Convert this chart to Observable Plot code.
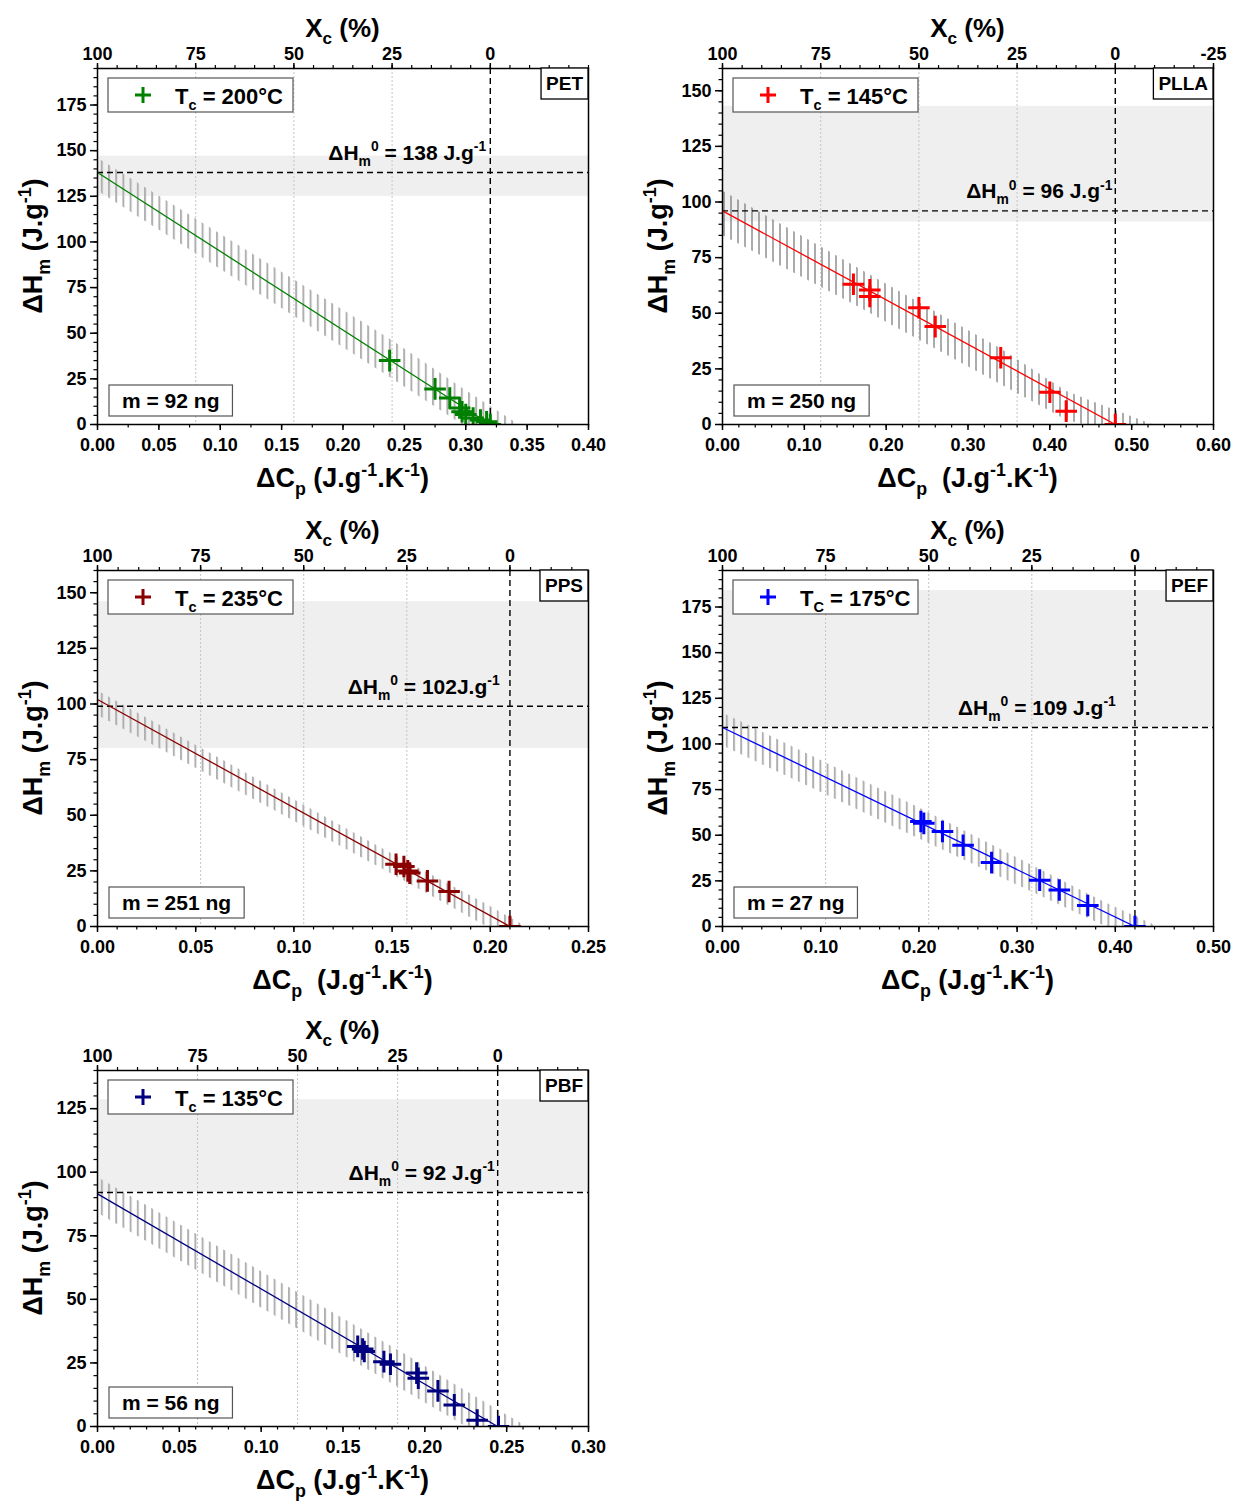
<!DOCTYPE html>
<html><head><meta charset="utf-8">
<script src="https://cdn.jsdelivr.net/npm/d3@7"></script>
<script src="https://cdn.jsdelivr.net/npm/@observablehq/plot@0.6"></script>
<style>
body{margin:0;background:#fff;}
#wrap{position:relative;width:1234px;height:1502px;overflow:hidden;background:#fff;}
.panel{position:absolute;width:617px;height:500px;}
.panel svg{max-width:none !important;}
</style></head><body>
<svg width="0" height="0" style="position:absolute">
<defs>
<pattern id="hatchLight" patternUnits="userSpaceOnUse" width="7.2" height="8"><line x1="1" y1="0" x2="1" y2="8" stroke="#b0b0b0" stroke-width="2"/></pattern>
<pattern id="hatchDark" patternUnits="userSpaceOnUse" width="7" height="8"><line x1="1" y1="0" x2="1" y2="8" stroke="#6c6c6c" stroke-width="1.15"/></pattern>
</defs></svg>
<div id="wrap"></div>
<script>
// ---------- DATA ----------
// PET
const PET_dCp = [0.238, 0.275, 0.287, 0.295, 0.297, 0.300, 0.306, 0.312, 0.317, 0.320];
const PET_dHm = [35, 19.5, 14.5, 9, 7, 5.5, 3.5, 2.5, 1.5, 0];
const PET_fitX = [0, 0.32], PET_fitY = [138, 0];
const PET_bandX = [0, 0.24, 0.297, 0.343], PET_bandHi = [146, 46, 20, 0], PET_bandLo = [128, 25, 0, 0];
const PET_refH = 138, PET_xc = 0.32, PET_grey = [125, 147];
// PLLA
const PLLA_dCp = [0.16, 0.18, 0.18, 0.24, 0.26, 0.34, 0.40, 0.42, 0.48];
const PLLA_dHm = [63, 60.5, 57.5, 52.5, 44, 30, 14.5, 6, 0];
const PLLA_fitX = [0, 0.48], PLLA_fitY = [96, 0];
const PLLA_bandX = [0, 0.16, 0.34, 0.42, 0.44, 0.525], PLLA_bandHi = [105, 71.5, 34, 15, 12, 0], PLLA_bandLo = [85, 54, 18, 2, 0, 0];
const PLLA_refH = 96, PLLA_xc = 0.48, PLLA_grey = [91, 143];
// PPS
const PPS_dCp = [0.152, 0.156, 0.158, 0.159, 0.168, 0.179, 0.21];
const PPS_dHm = [28, 27, 25, 24, 20.5, 15.7, 0];
const PPS_fitX = [0, 0.21], PPS_fitY = [102, 0];
const PPS_bandX = [0, 0.147, 0.198, 0.218], PPS_bandHi = [106, 34, 10, 0], PPS_bandLo = [95, 25, 0, 0];
const PPS_refH = 99, PPS_xc = 0.21, PPS_grey = [80, 146];
// PEF
const PEF_dCp = [0.202, 0.205, 0.224, 0.245, 0.274, 0.323, 0.343, 0.372, 0.42];
const PEF_dHm = [57.5, 56.5, 52, 44.5, 35, 25.4, 20, 11.5, 0];
const PEF_fitX = [0, 0.42], PEF_fitY = [109, 0];
const PEF_bandX = [0, 0.2, 0.39, 0.443], PEF_bandHi = [117, 65, 13, 0], PEF_bandLo = [99, 48, 0, 0];
const PEF_refH = 109, PEF_xc = 0.42, PEF_grey = [109, 184];
// PBF
const PBF_dCp = [0.159, 0.162, 0.163, 0.175, 0.179, 0.195, 0.196, 0.208, 0.218, 0.232, 0.245];
const PBF_dHm = [31.5, 30.5, 29.5, 25.5, 24.5, 21, 19, 14, 8.5, 2.5, 0];
const PBF_fitX = [0, 0.2445], PBF_fitY = [91.5, 0];
const PBF_bandX = [0, 0.189, 0.225, 0.262], PBF_bandHi = [98, 28, 14, 0], PBF_bandLo = [84, 13.5, 0, 0];
const PBF_refH = 92, PBF_xc = 0.2445, PBF_grey = [92, 128.5];

// Tick labels
const xcLabels = [100, 75, 50, 25, 0];
const xcLabelsPLLA = [100, 75, 50, 25, 0, -25];

// ---------- LAYOUT ----------
const W = 617, H = 500, ML = 97, MR = 29, MT = 68, MB = 76;
const FONT = "'Liberation Sans', Arial, Helvetica, sans-serif";

const zip = (xs, ys) => xs.map((x, i) => ({x, y: ys[i]}));
const band = (xs, hi, lo) => xs.map((x, i) => ({x, hi: hi[i], lo: lo[i]}));

const panels = [
  {name: "PET", pos: [0, 0], color: "#008000", hatch: "hatchLight",
   xDomain: [0, 0.40], yDomain: [0, 195], xStep: 0.05, xMinor: 0.025,
   pts: zip(PET_dCp, PET_dHm), fit: zip(PET_fitX, PET_fitY), band: band(PET_bandX, PET_bandHi, PET_bandLo),
   refH: PET_refH, xc: PET_xc, grey: PET_grey, top: xcLabels,
   tc: [["T"], ["c", "sub"], [" = 200°C"]], mass: "m = 92 ng",
   h0: [["ΔH"], ["m", "sub"], ["0", "sup"], [" = 138 J.g"], ["-1", "sup"]], h0End: 0.317,
   xTitle: [["ΔC"], ["p", "sub"], [" (J.g"], ["-1", "sup"], [".K"], ["-1", "sup"], [")"]]},
  {name: "PLLA", pos: [625, 0], color: "#ff0000", hatch: "hatchDark",
   xDomain: [0, 0.60], yDomain: [0, 160], xStep: 0.10, xMinor: 0.02,
   pts: zip(PLLA_dCp, PLLA_dHm), fit: zip(PLLA_fitX, PLLA_fitY), band: band(PLLA_bandX, PLLA_bandHi, PLLA_bandLo),
   refH: PLLA_refH, xc: PLLA_xc, grey: PLLA_grey, top: xcLabelsPLLA,
   tc: [["T"], ["c", "sub"], [" = 145°C"]], mass: "m = 250 ng",
   h0: [["ΔH"], ["m", "sub"], ["0", "sup"], [" = 96 J.g"], ["-1", "sup"]], h0End: 0.477,
   xTitle: [["ΔC"], ["p", "sub"], ["  (J.g"], ["-1", "sup"], [".K"], ["-1", "sup"], [")"]]},
  {name: "PPS", pos: [0, 502], color: "#8b0000", hatch: "hatchLight",
   xDomain: [0, 0.25], yDomain: [0, 160], xStep: 0.05, xMinor: 0.01,
   pts: zip(PPS_dCp, PPS_dHm), fit: zip(PPS_fitX, PPS_fitY), band: band(PPS_bandX, PPS_bandHi, PPS_bandLo),
   refH: PPS_refH, xc: PPS_xc, grey: PPS_grey, top: xcLabels,
   tc: [["T"], ["c", "sub"], [" = 235°C"]], mass: "m = 251 ng",
   h0: [["ΔH"], ["m", "sub"], ["0", "sup"], [" = 102J.g"], ["-1", "sup"]], h0End: 0.205,
   xTitle: [["ΔC"], ["p", "sub"], ["  (J.g"], ["-1", "sup"], [".K"], ["-1", "sup"], [")"]]},
  {name: "PEF", pos: [625, 502], color: "#0000ff", hatch: "hatchLight",
   xDomain: [0, 0.50], yDomain: [0, 195], xStep: 0.10, xMinor: 0.02,
   pts: zip(PEF_dCp, PEF_dHm), fit: zip(PEF_fitX, PEF_fitY), band: band(PEF_bandX, PEF_bandHi, PEF_bandLo),
   refH: PEF_refH, xc: PEF_xc, grey: PEF_grey, top: xcLabels,
   tc: [["T"], ["C", "sub"], [" = 175°C"]], mass: "m = 27 ng",
   h0: [["ΔH"], ["m", "sub"], ["0", "sup"], [" = 109 J.g"], ["-1", "sup"]], h0End: 0.401,
   xTitle: [["ΔC"], ["p", "sub"], [" (J.g"], ["-1", "sup"], [".K"], ["-1", "sup"], [")"]]},
  {name: "PBF", pos: [0, 1002], color: "#000080", hatch: "hatchLight",
   xDomain: [0, 0.30], yDomain: [0, 140], xStep: 0.05, xMinor: 0.01,
   pts: zip(PBF_dCp, PBF_dHm), fit: zip(PBF_fitX, PBF_fitY), band: band(PBF_bandX, PBF_bandHi, PBF_bandLo),
   refH: PBF_refH, xc: PBF_xc, grey: PBF_grey, top: xcLabels,
   tc: [["T"], ["c", "sub"], [" = 135°C"]], mass: "m = 56 ng",
   h0: [["ΔH"], ["m", "sub"], ["0", "sup"], [" = 92 J.g"], ["-1", "sup"]], h0End: 0.243,
   xTitle: [["ΔC"], ["p", "sub"], [" (J.g"], ["-1", "sup"], [".K"], ["-1", "sup"], [")"]]}
];

function rich(g, x, y, parts, size, anchor, rot) {
  const t = g.append("text").attr("x", x).attr("y", y).attr("font-size", size)
    .attr("text-anchor", anchor).attr("fill", "black").style("white-space", "pre");
  if (rot) t.attr("transform", `rotate(${rot},${x},${y})`);
  let cur = 0;
  for (const [str, kind] of parts) {
    const off = kind === "sub" ? 0.28 * size : kind === "sup" ? -0.42 * size : 0;
    const ts = t.append("tspan").attr("dy", off - cur).text(str);
    if (kind) ts.attr("font-size", 0.66 * size);
    cur = off;
  }
  return t;
}

const wrap = document.getElementById("wrap");
const eps = 1e-9;

for (const p of panels) {
  const [x0, x1] = p.xDomain, [y0, y1] = p.yDomain;
  const xMajor = d3.range(x0, x1 + eps, p.xStep);
  const xMinor = d3.range(x0, x1 + eps, p.xMinor);
  const yMajor = d3.range(0, y1 + eps, 25);
  const yMinor = d3.range(0, y1 + eps, 5);
  // secondary (top) axis: Xc = 100 (1 - dCp / xc)
  const toDcp = t => p.xc * (1 - t / 100);
  const topPos = p.top.map(toDcp);
  const topMap = new Map(topPos.map((d, i) => [d, String(p.top[i])]));
  const xcMin = 100 * (1 - x1 / p.xc);
  const topMinor = d3.range(100, xcMin - eps, -5).map(toDcp).filter(d => d <= x1 + eps);
  const gridPos = p.top.filter(t => t > 0 && t < 100).map(toDcp);

  const svg = Plot.plot({
    width: W, height: H, marginLeft: ML, marginRight: MR, marginTop: MT, marginBottom: MB,
    x: {domain: p.xDomain}, y: {domain: p.yDomain},
    style: {fontFamily: FONT, fontSize: "18px", fontWeight: "bold", color: "black", background: "transparent", overflow: "visible", maxWidth: "none"},
    marks: [
      Plot.rect([{x1: x0, x2: x1, y1: p.grey[0], y2: p.grey[1]}], {x1: "x1", x2: "x2", y1: "y1", y2: "y2", fill: "#efefef"}),
      Plot.ruleX(gridPos, {stroke: "#c4c4c4", strokeWidth: 1, strokeDasharray: "2,2"}),
      Plot.areaY(p.band, {x: "x", y1: "lo", y2: "hi", fill: `url(#${p.hatch})`, curve: "linear", clip: true}),
      Plot.ruleY([p.refH], {stroke: "black", strokeWidth: 1.4, strokeDasharray: "6,4"}),
      Plot.ruleX([p.xc], {stroke: "black", strokeWidth: 1.4, strokeDasharray: "6,4"}),
      Plot.line(p.fit, {x: "x", y: "y", stroke: p.color, strokeWidth: 1.3, clip: true}),
      Plot.dot(p.pts, {x: "x", y: "y", symbol: "plus", r: 7, stroke: p.color, strokeWidth: 3, clip: true}),
      Plot.frame({stroke: "black", strokeWidth: 1.5}),
      Plot.axisX(xMinor, {anchor: "bottom", tickSize: 3.5, tickFormat: () => "", label: null, strokeWidth: 1.2}),
      Plot.axisX(xMajor, {anchor: "bottom", tickSize: 6, tickPadding: 8, tickFormat: d3.format(".2f"), label: null, strokeWidth: 1.5}),
      Plot.axisY(yMinor, {anchor: "left", tickSize: 3.5, tickFormat: () => "", label: null, strokeWidth: 1.2}),
      Plot.axisY(yMajor, {anchor: "left", tickSize: 7, tickPadding: 4, tickFormat: d3.format("d"), label: null, strokeWidth: 1.5}),
      Plot.axisX(topMinor, {anchor: "top", tickSize: 4, tickFormat: () => "", label: null, strokeWidth: 1.2}),
      Plot.axisX(topPos, {anchor: "top", tickSize: 6, tickPadding: 3, tickFormat: d => topMap.get(d), label: null, strokeWidth: 1.5})
    ]
  });

  const div = document.createElement("div");
  div.className = "panel";
  div.style.left = p.pos[0] + "px";
  div.style.top = p.pos[1] + "px";
  div.appendChild(svg);
  wrap.appendChild(div);

  const sx = svg.scale("x"), sy = svg.scale("y");
  const fl = ML, fr = W - MR, ft = MT, fb = H - MB, fcx = (fl + fr) / 2, fcy = (ft + fb) / 2;
  const g = d3.select(svg).append("g").attr("font-family", FONT).attr("font-weight", "bold");

  // axis titles
  rich(g, fcx, 37, [["X"], ["c", "sub"], [" (%)"]], 26, "middle");
  rich(g, fcx, fb + 63, p.xTitle, 27, "middle");
  rich(g, 42, fcy, [["ΔH"], ["m", "sub"], [" (J.g"], ["-1", "sup"], [")"]], 27, "middle", -90);

  // legend box
  const lx = fl + 11, ly = ft + 10;
  g.append("rect").attr("x", lx).attr("y", ly).attr("width", 185).attr("height", 34)
    .attr("fill", "white").attr("stroke", "#555").attr("stroke-width", 1.2);
  g.append("path").attr("d", `M${lx + 27},${ly + 17}h16M${lx + 35},${ly + 9}v16`)
    .attr("stroke", p.color).attr("stroke-width", 3).attr("fill", "none");
  rich(g, lx + 67, ly + 26, p.tc, 22, "start");

  // mass box
  const mrect = g.append("rect");
  const mtext = rich(g, 0, 0, [[p.mass]], 21, "middle");
  const mw = mtext.node().getComputedTextLength() + 26;
  const mx = fl + 12, my = fb - 39;
  mrect.attr("x", mx).attr("y", my).attr("width", mw).attr("height", 31)
    .attr("fill", "white").attr("stroke", "#555").attr("stroke-width", 1.2);
  mtext.attr("x", mx + mw / 2).attr("y", my + 23);

  // name box
  const nrect = g.append("rect");
  const ntext = rich(g, 0, 0, [[p.name]], 19, "middle");
  const nw = ntext.node().getComputedTextLength() + 10;
  nrect.attr("x", fr - nw).attr("y", ft).attr("width", nw).attr("height", 31)
    .attr("fill", "white").attr("stroke", "black").attr("stroke-width", 1.3);
  ntext.attr("x", fr - nw / 2).attr("y", ft + 22);

  // ΔHm0 label
  rich(g, sx.apply(p.h0End), sy.apply(p.refH) - 12, p.h0, 21, "end");
}
</script>
</body></html>
